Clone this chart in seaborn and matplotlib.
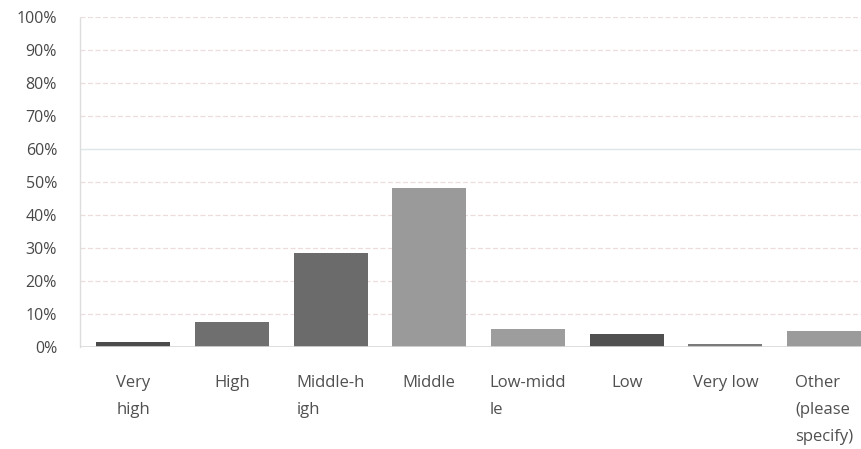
import matplotlib
matplotlib.use("Agg")
import matplotlib.pyplot as plt
import seaborn as sns
import pandas as pd

categories = ["Very\nhigh", "High", "Middle-h\nigh", "Middle", "Low-midd\nle", "Low", "Very low", "Other\n(please\nspecify)"]
values = [1.5, 7.6, 28.5, 48.2, 5.5, 4.0, 1.0, 5.0]
colors = ["#4b4b4b", "#6f6f6f", "#6b6b6b", "#9a9a9a", "#9d9d9d", "#505050", "#7a7a7a", "#9b9b9b"]
yticks = [0, 10, 20, 30, 40, 50, 60, 70, 80, 90, 100]
ytick_labels = [f"{t}%" for t in yticks]

df = pd.DataFrame({"cat": categories, "val": values})

sns.set_style("white")
plt.rcParams['font.family'] = ['Open Sans', 'DejaVu Sans']

fig = plt.figure(figsize=(8.61, 4.49), dpi=100)
ax = fig.add_axes([80/861, 1 - 347/449, (861-80)/861, (347-17)/449])

sns.barplot(data=df, x="cat", y="val", hue="cat", palette=colors, legend=False,
            width=0.75, ax=ax, saturation=1, edgecolor="none")

ax.set_xlim(-0.54, 7.375)
ax.set_ylim(0, 100)
ax.set_yticks(yticks)
ax.set_yticklabels(ytick_labels, fontsize=11.5, color="#484848", fontweight="medium")
ax.tick_params(axis="y", length=0, pad=16.5)
ax.tick_params(axis="x", length=0)
ax.set_xticks(range(len(categories)))
ax.set_xticklabels([])
ax.set_xlabel("")
ax.set_ylabel("")

for t in yticks[1:]:
    if t == 60:
        ax.axhline(t, color="#dde6e8", lw=1.0, zorder=0)
    else:
        ax.axhline(t, color="#ecdcdc", lw=0.9, ls=(0, (4, 2)), zorder=0)
ax.axhline(0, color="#d8d8d8", lw=1.2, zorder=3)

for s in ["top", "right", "bottom"]:
    ax.spines[s].set_visible(False)
ax.spines["left"].set_color("#dddddd")
ax.spines["left"].set_linestyle((0, (1, 1)))
ax.spines["left"].set_linewidth(1.0)

for i, c in enumerate(categories):
    ax.text(i, -8.6, c, ha="center", va="top", multialignment="left",
            fontsize=12, color="#505050", linespacing=1.9, clip_on=False)

fig.savefig("out.png", dpi=100)
